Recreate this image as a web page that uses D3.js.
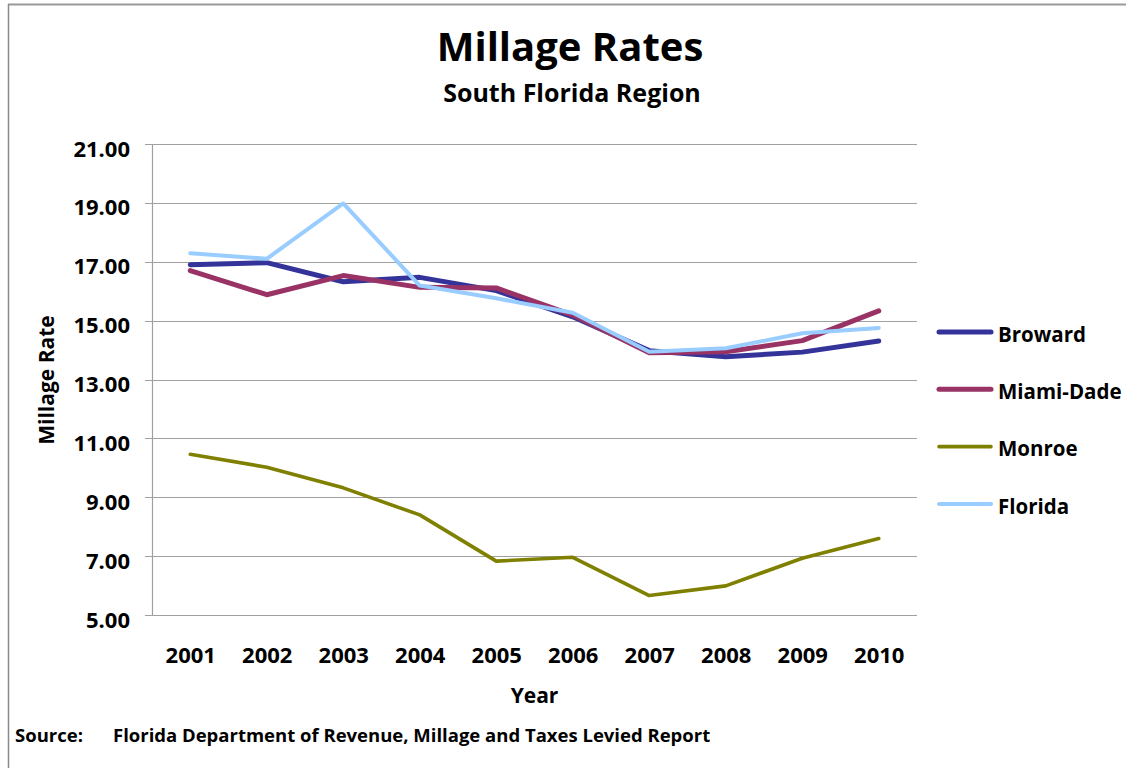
<!DOCTYPE html>
<html>
<head>
<meta charset="utf-8">
<script src="https://cdn.jsdelivr.net/npm/d3@7"></script>
<style>
  html, body { margin: 0; padding: 0; background: #fff; }
  svg { display: block; font-family: "Open Sans", "DejaVu Sans", sans-serif; font-weight: bold; }
</style>
</head>
<body>
<svg id="chart" width="1126" height="768"></svg>
<script>
// ---- data ----
const years = ["2001","2002","2003","2004","2005","2006","2007","2008","2009","2010"];
const seriesNames = ["Broward","Miami-Dade","Monroe","Florida"];
const broward   = [16.90, 16.97, 16.32, 16.47, 16.02, 15.13, 13.98, 13.77, 13.93, 14.31];
const miamiDade = [16.70, 15.88, 16.53, 16.13, 16.11, 15.19, 13.91, 13.94, 14.32, 15.33];
const monroe    = [10.46, 10.02, 9.32, 8.40, 6.83, 6.96, 5.66, 5.99, 6.93, 7.60];
const florida   = [17.29, 17.10, 18.98, 16.19, 15.76, 15.27, 13.94, 14.06, 14.57, 14.75];
const yTicks = [5, 7, 9, 11, 13, 15, 17, 19, 21];
const titleText = "Millage Rates";
const subtitleText = "South Florida Region";
const xTitle = "Year";
const yTitle = "Millage Rate";
const sourceLabel = "Source:";
const sourceText = "Florida Department of Revenue, Millage and Taxes Levied Report";

const seriesValues = [broward, miamiDade, monroe, florida];
const colors = ["#333399", "#993366", "#808000", "#99CCFF"];
const widths = [5, 5, 3.6, 4];

// ---- layout ----
const svg = d3.select("#chart");
const plot = { left: 152, right: 917, top: 144, bottom: 615 };

const x = d3.scalePoint().domain(years).range([plot.left, plot.right]).padding(0.5);
const y = d3.scaleLinear().domain([5, 21]).range([plot.bottom, plot.top]);

// outer border (top + left)
svg.append("line").attr("x1", 8).attr("x2", 1126).attr("y1", 4.5).attr("y2", 4.5)
  .attr("stroke", "#9a9a9a").attr("stroke-width", 2);
svg.append("line").attr("x1", 8.5).attr("x2", 8.5).attr("y1", 4).attr("y2", 768)
  .attr("stroke", "#8a8a8a").attr("stroke-width", 1.5);

// gridlines
const gridG = svg.append("g");
gridG.selectAll("line").data(yTicks).join("line")
  .attr("x1", plot.left - 7).attr("x2", plot.right)
  .attr("y1", d => Math.round(y(d)) + 0.5).attr("y2", d => Math.round(y(d)) + 0.5)
  .attr("stroke", "#a0a0a0").attr("stroke-width", 1.2);

// y axis line
svg.append("line").attr("x1", plot.left + 0.5).attr("x2", plot.left + 0.5)
  .attr("y1", plot.top).attr("y2", plot.bottom)
  .attr("stroke", "#a0a0a0").attr("stroke-width", 1.2);

// y tick labels
const yAxis = d3.axisLeft(y).tickValues(yTicks).tickFormat(d3.format(".2f")).tickSize(0).tickPadding(0);
const yAxisG = svg.append("g").attr("transform", "translate(130,0)").call(yAxis);
yAxisG.select(".domain").remove();
yAxisG.selectAll("text").attr("font-size", 22).attr("font-family", "Open Sans").attr("font-weight", "bold")
  .attr("fill", "#000").attr("dy", "0.55em").attr("x", 0);

// x tick labels
const xAxis = d3.axisBottom(x).tickSize(0).tickPadding(0);
const xAxisG = svg.append("g").attr("transform", `translate(0,${plot.bottom})`).call(xAxis);
xAxisG.select(".domain").remove();
xAxisG.selectAll("text").attr("font-size", 22).attr("font-family", "Open Sans").attr("font-weight", "bold")
  .attr("fill", "#000").attr("y", 48).attr("dy", 0);

// lines
const line = d3.line().x((d, i) => x(years[i])).y(d => y(d));
const linesG = svg.append("g");
seriesValues.forEach((vals, k) => {
  linesG.append("path").datum(vals)
    .attr("d", line)
    .attr("fill", "none")
    .attr("stroke", colors[k])
    .attr("stroke-width", widths[k])
    .attr("stroke-linejoin", "round")
    .attr("stroke-linecap", "round");
});

// titles
svg.append("text").attr("x", 570).attr("y", 61).attr("text-anchor", "middle")
  .attr("font-size", 40).text(titleText);
svg.append("text").attr("x", 572).attr("y", 102).attr("text-anchor", "middle")
  .attr("font-size", 25).text(subtitleText);

// axis titles
svg.append("text").attr("x", (plot.left + plot.right) / 2).attr("y", 703).attr("text-anchor", "middle")
  .attr("font-size", 21).text(xTitle);
svg.append("text").attr("transform", "translate(54,380) rotate(-90)").attr("text-anchor", "middle")
  .attr("font-size", 21).text(yTitle);

// legend
const legendY = d3.scalePoint().domain(seriesNames).range([332, 504]);
const legG = svg.append("g");
seriesNames.forEach((name, k) => {
  const ly = legendY(name);
  legG.append("line").attr("x1", 939).attr("x2", 991).attr("y1", ly).attr("y2", ly)
    .attr("stroke", colors[k]).attr("stroke-width", widths[k]).attr("stroke-linecap", "round");
  legG.append("text").attr("x", 998).attr("y", ly + 9.5).attr("font-size", 20.5).text(name);
});

// source
svg.append("text").attr("x", 15).attr("y", 742).attr("font-size", 18.5).text(sourceLabel);
svg.append("text").attr("x", 113).attr("y", 742).attr("font-size", 18.5).text(sourceText);
</script>
</body>
</html>
